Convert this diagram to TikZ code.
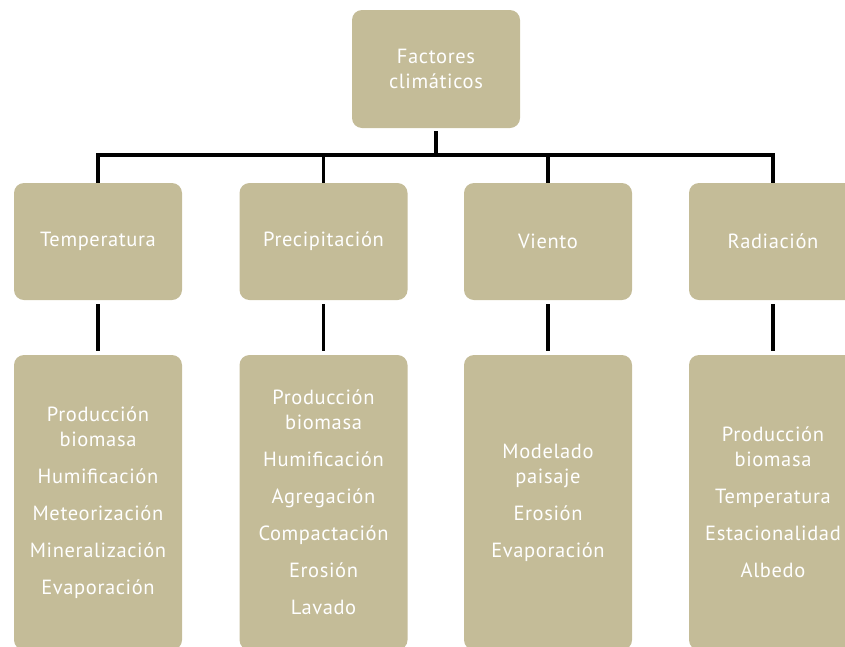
\documentclass[tikz,border=0pt]{standalone}
\usepackage{fontspec}
\setmainfont{PT Sans}[LetterSpace=3]
\usepackage{xcolor}
\definecolor{caqui}{RGB}{196,188,152}

\begin{document}
\begin{tikzpicture}[x=1pt,y=-1pt,
  caja/.style={fill=caqui, rounded corners=10pt, text=white, align=center,
    font=\fontsize{20.5}{25}\selectfont, minimum width=168pt, inner sep=0pt},
  fila/.style={caja, minimum height=117pt},
  lista/.style={caja, minimum height=295pt},
  linea/.style={line width=3.5pt}]
\useasboundingbox (0,0) rectangle (845,646);
\node[fila, minimum height=118pt] (factores) at (436,69) {Factores\\climáticos};
\node[fila] (temp) at (98,241.5) {Temperatura};
\node[fila] (prec) at (323.5,241.5) {Precipitación};
\node[fila] (viento) at (548,241.5) {Viento};
\node[fila] (rad) at (773,241.5) {Radiación};
\node[lista] (ltemp) at (98,502.5) {Producción\\biomasa\\[12pt]Humificación\\[12pt]Meteorización\\[12pt]Mineralización\\[12pt]Evaporación};
\node[lista] (lprec) at (323.5,502.5) {Producción\\biomasa\\[12pt]Humificación\\[12pt]Agregación\\[12pt]Compactación\\[12pt]Erosión\\[12pt]Lavado};
\node[lista] (lviento) at (548,502.5) {Modelado\\paisaje\\[12pt]Erosión\\[12pt]Evaporación};
\node[lista] (lrad) at (773,502.5) {Producción\\biomasa\\[12pt]Temperatura\\[12pt]Estacionalidad\\[12pt]Albedo};
% lineas
\coordinate (bus) at (436,155);
\draw[linea, shorten <=3pt] (factores.south) -- (bus);
\draw[linea] (temp.north) -- (temp.north |- bus) -- (rad.north |- bus) -- (rad.north);
\draw[linea] (prec.north |- bus) -- (prec.north);
\draw[linea] (viento.north |- bus) -- (viento.north);
\foreach \n in {temp,prec,viento,rad}
  \draw[linea, shorten <=4pt, shorten >=4pt] (\n.south) -- (l\n.north);
\end{tikzpicture}
\end{document}
